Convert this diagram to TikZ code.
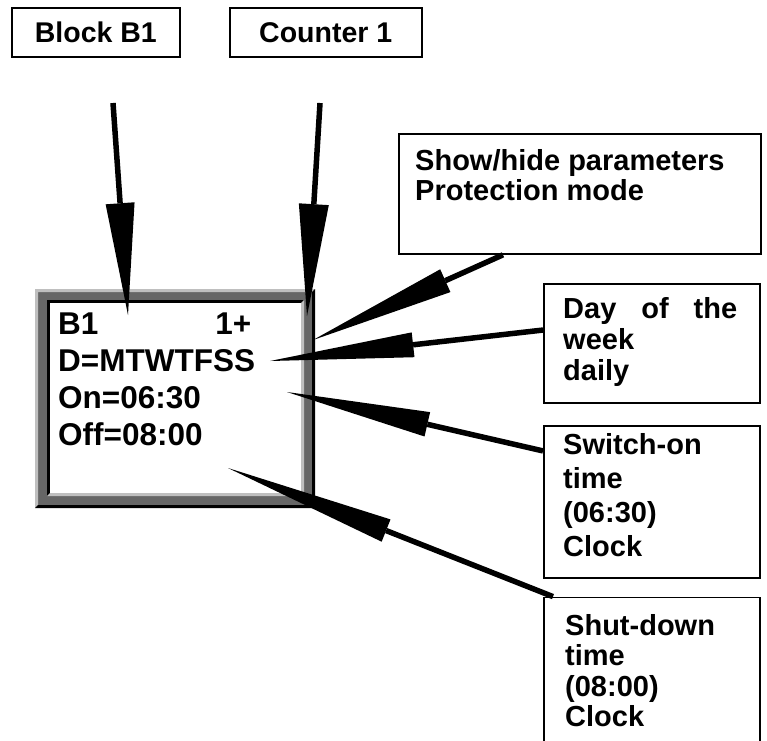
\documentclass[tikz,border=0pt]{standalone}
\usepackage{fontspec}
\setmainfont{Liberation Sans}
\usetikzlibrary{positioning,arrows.meta}
\definecolor{lgray}{gray}{0.75}
\definecolor{dgray}{gray}{0.4}
\tikzset{
  lbl/.style={draw, line width=1.8pt, minimum width=168pt, minimum height=49pt, inner sep=0pt, font=\fontsize{28.5}{30}\bfseries\selectfont},
  cbox/.style={draw, line width=1.8pt, anchor=north west, inner sep=0pt},
  txt/.style={anchor=base west, inner sep=0pt, align=left},
  pointer/.style 2 args={line width=5.5pt, -{Triangle[length=#1, width=#2, line width=0pt]}}
}
\begin{document}
\begin{tikzpicture}[x=1pt, y=-1pt]
      \useasboundingbox (0,0) rectangle (767,740);
      \node [lbl, anchor=north west] (lb) at (11,7) {Block B1};
      \node [lbl, right=48pt of lb, minimum width=192pt] (lc) {Counter 1};

      \fill [dgray] (35,289) rectangle (315,508);
      \fill [lgray] (35,508) -- (35,289) -- (315,289) -- (312,292) -- (38,292) -- (38,505) -- cycle;
      \fill [black] (315,289) -- (315,508) -- (35,508) -- (38,505) -- (312,505) -- (312,292) -- cycle;
      \fill [black] (47,496) -- (47,300) -- (304,300) -- (301,303) -- (50,303) -- (50,493) -- cycle;
      \fill [lgray] (304,300) -- (304,496) -- (47,496) -- (50,493) -- (301,493) -- (301,303) -- cycle;
      \fill [white] (50,303) rectangle (301,493);
      \node [txt, font=\fontsize{31.5}{36.7}\bfseries\selectfont] (d) at (58,445) {B1\hspace{117pt}1+\\D=MTWTFSS\\On=06:30\\Off=08:00};

      \node [cbox, minimum width=362pt, minimum height=120pt] (b1) at (398,133) {};
      \node [cbox, minimum width=216pt, minimum height=119pt] (b2) at (543,283) {};
      \node [cbox, minimum width=216pt, minimum height=152pt, below=21pt of b2] (b3) {};
      \node [cbox, minimum width=216pt, minimum height=170pt, below=18pt of b3] (b4) {};
      \node [txt, font=\fontsize{29}{30}\bfseries\selectfont] (t1) at ([shift={(17,67)}]b1.north west) {Show/hide parameters\\Protection mode};
      \node [txt, text width=174pt, font=\fontsize{29}{31}\bfseries\selectfont] (t2) at ([shift={(20,35)}]b2.north west) {Day\hfill of\hfill the\\week\\daily};
      \node [txt, font=\fontsize{29}{34}\bfseries\selectfont] (t3) at ([shift={(20,132)}]b3.north west) {Switch-on\\time\\(06:30)\\Clock};
      \node [txt, font=\fontsize{29}{30.5}\bfseries\selectfont] (t4) at ([shift={(22,130)}]b4.north west) {Shut-down\\time\\(08:00)\\Clock};

      \coordinate (a1) at (113,103);
      \coordinate (a2) at (320,103);
      \coordinate (p1) at (128,315);
      \coordinate (p2) at (307,316);
      \coordinate (p3) at (313,340);
      \coordinate (p4) at (270,361);
      \coordinate (p5) at (287,392);
      \coordinate (p6) at (228,468);
      \draw [pointer={112pt}{29pt}] (a1) -- (p1);
      \draw [pointer={112pt}{30pt}] (a2) -- (p2);
      \draw [pointer={145pt}{25pt}] ([xshift=105pt]b1.south west) -- (p3);
      \draw [pointer={144pt}{25pt}] (b2.173) -- (p4);
      \draw [pointer={144pt}{25pt}] (b3.155) -- (p5);
      \draw [pointer={170pt}{24pt}] ([xshift=10pt]b4.north west) -- (p6);
\end{tikzpicture}
\end{document}
